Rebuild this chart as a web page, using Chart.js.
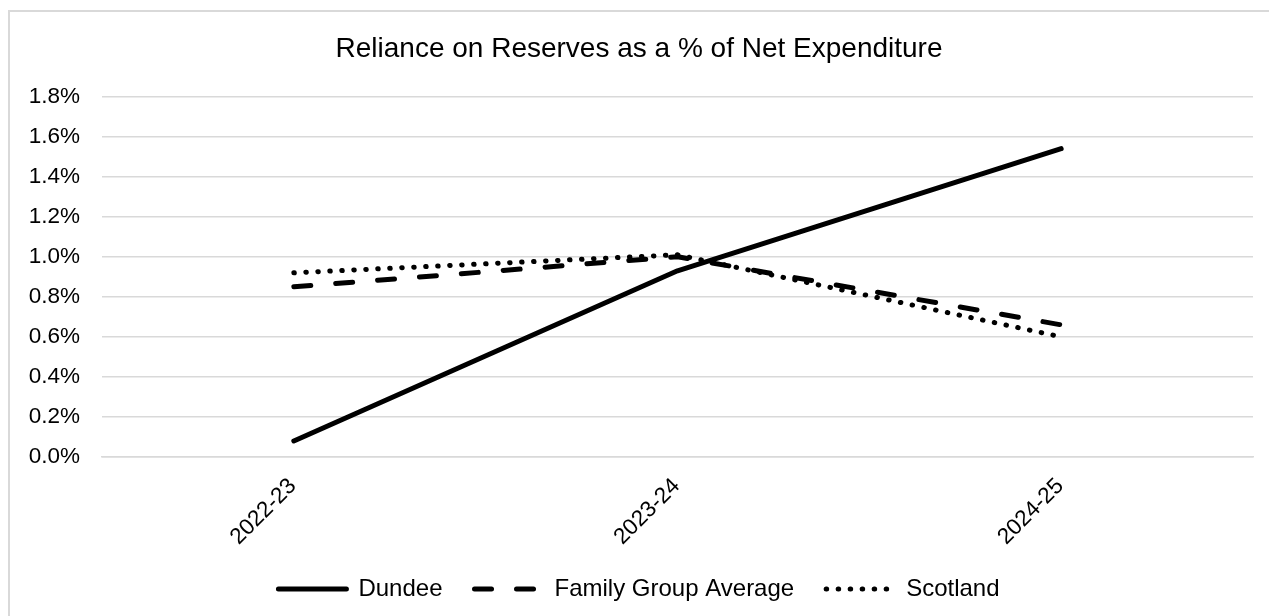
<!DOCTYPE html>
<html>
<head>
<meta charset="utf-8">
<script src="https://cdn.jsdelivr.net/npm/chart.js@4"></script>
<style>
  body { margin: 0; background: #fff; overflow: hidden; }
  .frame { position: absolute; left: 8px; top: 10px; width: 1300px; height: 650px; border: 2px solid #d9d9d9; }
  .wrap { position: absolute; left: 0; top: 0; width: 1269px; height: 616px; }
</style>
</head>
<body>
<div class="frame"></div>
<div class="wrap"><canvas id="chart"></canvas></div>
<script>
const years = ["2022-23", "2023-24", "2024-25"];
const dundee = [0.08, 0.93, 1.54];
const familyGroup = [0.85, 1.00, 0.66];
const scotland = [0.92, 1.01, 0.60];

const font = "'Liberation Sans', Arial, sans-serif";

const makeLine = (label, data, dash) => ({
    label: label,
    data: data,
    borderColor: "#000",
    backgroundColor: "#000",
    borderWidth: 5,
    borderDash: dash,
    borderCapStyle: "round",
    borderJoinStyle: "round",
    pointRadius: 0,
    tension: 0,
});

// legend samples take the dash of their dataset
const legendLabels = (chart) =>
    Chart.defaults.plugins.legend.labels.generateLabels(chart).map((item, i) => ({
        ...item,
        lineDash: chart.data.datasets[i].borderDash,
        lineCap: "round",
        lineWidth: 5,
        strokeStyle: "#000",
        fillStyle: "#000",
    }));

new Chart(document.getElementById("chart").getContext("2d"), {
    type: "line",
    data: {
        labels: years,
        datasets: [
            makeLine("Dundee", dundee, []),
            makeLine("Family Group Average", familyGroup, [17, 25]),
            makeLine("Scotland", scotland, [0.5, 11.5]),
        ],
    },
    options: {
        responsive: true,
        maintainAspectRatio: false,
        animation: false,
        layout: { padding: { left: 25, right: 16, top: 10, bottom: 5 } },
        plugins: {
            title: {
                display: true,
                text: "Reliance on Reserves as a % of Net Expenditure",
                color: "#000",
                font: { family: font, size: 28, weight: "normal" },
                padding: { top: 22, bottom: 31 },
            },
            legend: {
                position: "bottom",
                labels: {
                    usePointStyle: true,
                    pointStyle: "line",
                    pointStyleWidth: 68,
                    color: "#000",
                    font: { family: font, size: 24 },
                    padding: 32,
                    generateLabels: legendLabels,
                },
            },
            tooltip: { enabled: false },
        },
        scales: {
            x: {
                offset: true,
                grid: { display: false, drawTicks: false },
                border: { color: "#d9d9d9", width: 1.5 },
                ticks: {
                    color: "#000",
                    font: { family: font, size: 22.5 },
                    minRotation: 45,
                    maxRotation: 45,
                    padding: 16,
                    labelOffset: -1,
                },
                afterFit: (axis) => { axis.height = 88; },
            },
            y: {
                min: 0,
                max: 1.8,
                grid: { color: "#d9d9d9", lineWidth: 1.5, drawTicks: false },
                border: { display: false },
                ticks: {
                    stepSize: 0.2,
                    color: "#000",
                    font: { family: font, size: 22.5 },
                    padding: 22,
                    callback: (v) => v.toFixed(1) + "%",
                },
                afterFit: (axis) => { axis.width = 77; },
            },
        },
    },
});
</script>
</body>
</html>
